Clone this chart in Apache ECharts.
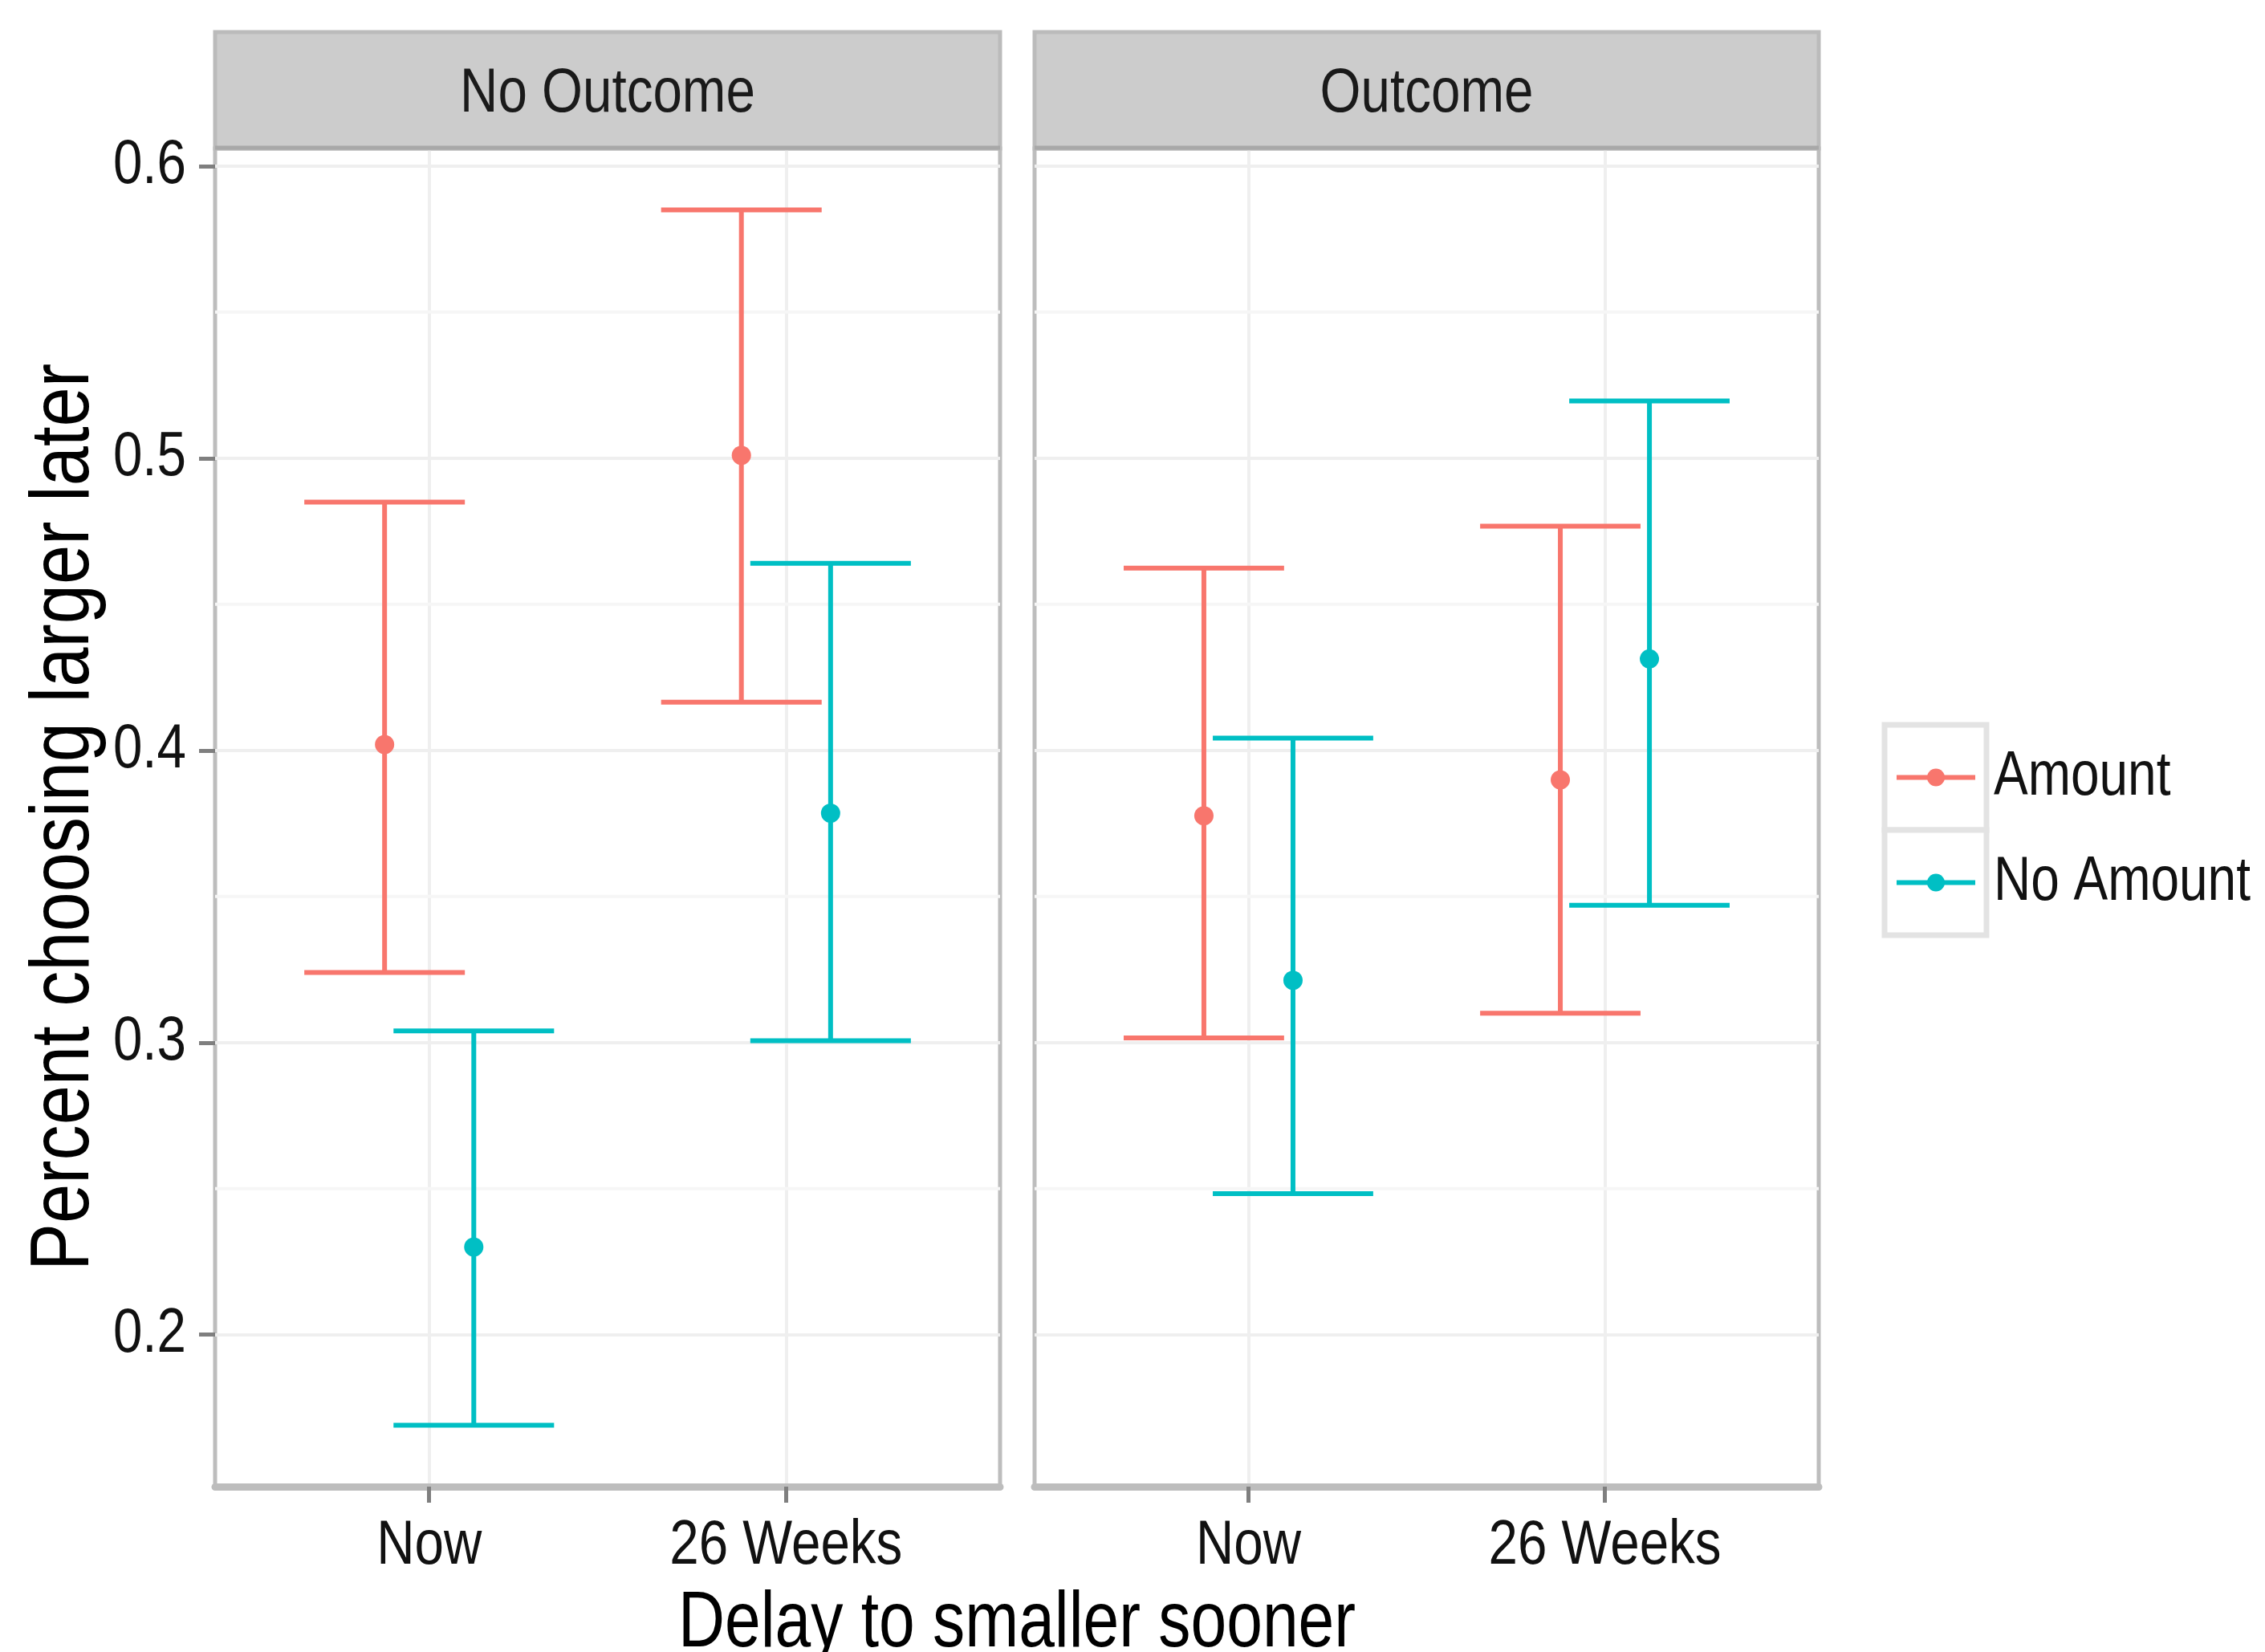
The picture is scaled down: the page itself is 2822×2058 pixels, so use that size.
<!DOCTYPE html>
<html>
<head>
<meta charset="utf-8">
<script src="https://cdn.jsdelivr.net/npm/echarts@6/dist/echarts.min.js"></script>
<style>
html,body{margin:0;padding:0;background:#fff;}
#chart{width:2822px;height:2058px;}
</style>
</head>
<body>
<div id="chart"></div>
<script>
// ---- data ----
const categories = ['Now', '26 Weeks'];
const facets = ['No Outcome', 'Outcome'];
const groups = ['Amount', 'No Amount'];
const yTicks = [0.2, 0.3, 0.4, 0.5, 0.6];
const yMinorTicks = [0.25, 0.35, 0.45, 0.55];

const noOutcome_amount_mean  = [0.402, 0.501];
const noOutcome_amount_lower = [0.324, 0.4165];
const noOutcome_amount_upper = [0.485, 0.585];
const noOutcome_noAmount_mean  = [0.230, 0.3785];
const noOutcome_noAmount_lower = [0.169, 0.3006];
const noOutcome_noAmount_upper = [0.304, 0.464];

const outcome_amount_mean  = [0.3776, 0.3899];
const outcome_amount_lower = [0.3016, 0.310];
const outcome_amount_upper = [0.4624, 0.4767];
const outcome_noAmount_mean  = [0.3213, 0.4313];
const outcome_noAmount_lower = [0.2483, 0.347];
const outcome_noAmount_upper = [0.4042, 0.5196];

// ---- styling / layout ----
const COLORS = ['#F8766D', '#00BFC4'];
const DODGE = 0.125;
const CAP_HALF = 0.225;
const FONT = "'Liberation Sans', Arial, sans-serif";
const NARROW = 0.84;
const panels = [
  {left: 268, width: 978},
  {left: 1289, width: 977}
];
const TOP = 185, BOTTOM = 1852;

function rows(mean, lower, upper, offset) {
  return categories.map((c, i) => [i + 1 + offset, mean[i], lower[i], upper[i]]);
}

const facetData = [
  [rows(noOutcome_amount_mean, noOutcome_amount_lower, noOutcome_amount_upper, -DODGE),
   rows(noOutcome_noAmount_mean, noOutcome_noAmount_lower, noOutcome_noAmount_upper, DODGE)],
  [rows(outcome_amount_mean, outcome_amount_lower, outcome_amount_upper, -DODGE),
   rows(outcome_noAmount_mean, outcome_noAmount_lower, outcome_noAmount_upper, DODGE)]
];

function errRender(color) {
  return function (params, api) {
    const x = api.value(0), m = api.value(1), lo = api.value(2), hi = api.value(3);
    const pLo = api.coord([x, lo]), pHi = api.coord([x, hi]), pM = api.coord([x, m]);
    const l1 = api.coord([x - CAP_HALF, lo]), r1 = api.coord([x + CAP_HALF, lo]);
    const l2 = api.coord([x - CAP_HALF, hi]), r2 = api.coord([x + CAP_HALF, hi]);
    const st = {stroke: color, lineWidth: 6};
    return {
      type: 'group',
      children: [
        {type: 'line', shape: {x1: pLo[0], y1: pLo[1], x2: pHi[0], y2: pHi[1]}, style: st},
        {type: 'line', shape: {x1: l1[0], y1: l1[1], x2: r1[0], y2: r1[1]}, style: st},
        {type: 'line', shape: {x1: l2[0], y1: l2[1], x2: r2[0], y2: r2[1]}, style: st},
        {type: 'circle', shape: {cx: pM[0], cy: pM[1], r: 12}, style: {fill: color}}
      ]
    };
  };
}

function minorRender(params, api) {
  const cs = params.coordSys;
  const p = api.coord([1, api.value(1)]);
  return {type: 'line', shape: {x1: cs.x, y1: p[1], x2: cs.x + cs.width, y2: p[1]},
          style: {stroke: '#f6f6f6', lineWidth: 4}};
}

function txt(text, x, y, size, opts) {
  opts = opts || {};
  return {
    type: 'text', x: x, y: y, z: 12, scaleX: opts.scaleX || NARROW,
    rotation: opts.rotation || 0,
    style: {text: text, font: `${size}px ${FONT}`, fill: opts.fill || '#1a1a1a',
            align: opts.align || 'center', verticalAlign: 'middle'}
  };
}

const grids = [], xAxes = [], yAxes = [], series = [], graphics = [];
panels.forEach((p, k) => {
  grids.push({left: p.left, top: TOP, width: p.width, height: BOTTOM - TOP,
              show: true, borderColor: '#bdbdbd', borderWidth: 5, backgroundColor: '#fff'});
  xAxes.push({
    type: 'value', gridIndex: k, min: 0.4, max: 2.6,
    axisLine: {show: true, onZero: false, lineStyle: {color: '#bdbdbd', width: 9}},
    axisTick: {show: true, length: 20, lineStyle: {color: '#7f7f7f', width: 5}, customValues: [1, 2]},
    axisLabel: {show: false, customValues: [1, 2]},
    splitLine: {show: true, lineStyle: {color: '#efefef', width: 4}}
  });
  yAxes.push({
    type: 'value', gridIndex: k, min: 0.148, max: 0.606,
    axisLine: {show: false},
    axisTick: {show: k === 0, length: 20, lineStyle: {color: '#7f7f7f', width: 5}, customValues: yTicks},
    axisLabel: {show: false, customValues: yTicks},
    splitLine: {show: true, lineStyle: {color: '#efefef', width: 4}}
  });
  series.push({
    type: 'custom', name: 'minor', xAxisIndex: k, yAxisIndex: k, silent: true, z: 1,
    data: yMinorTicks.map(v => [1, v]), renderItem: minorRender, encode: {x: 0, y: 1}
  });
  groups.forEach((g, j) => {
    series.push({
      type: 'custom', name: g, xAxisIndex: k, yAxisIndex: k, z: 3, clip: false,
      data: facetData[k][j], encode: {x: 0, y: [1, 2, 3]},
      renderItem: errRender(COLORS[j])
    });
  });
  // strip
  graphics.push({type: 'rect', shape: {x: p.left, y: 40, width: p.width, height: 145},
                 style: {fill: '#cccccc', stroke: '#bbbbbb', lineWidth: 5}, z: 10});
  graphics.push({type: 'line', shape: {x1: p.left, y1: 184, x2: p.left + p.width, y2: 184},
                 style: {stroke: '#a8a8a8', lineWidth: 5}, z: 11});
  graphics.push(txt(facets[k], p.left + p.width / 2, 117, 78));
});

// axis titles
graphics.push(txt('Delay to smaller sooner', 1267, 2024, 98, {fill: '#000', scaleX: 0.82}));
graphics.push(txt('Percent choosing larger later', 81, 1018, 104, {fill: '#000', scaleX: 0.85, rotation: Math.PI / 2}));

// legend
const LX = 2348, LW = 127, LY = 903, LH = 131;
groups.forEach((g, j) => {
  const y0 = LY + j * LH;
  const cy = y0 + LH / 2;
  graphics.push({type: 'rect', shape: {x: LX, y: y0, width: LW, height: LH},
                 style: {fill: '#fff', stroke: '#e3e3e3', lineWidth: 7}, z: 10});
  graphics.push({type: 'line', shape: {x1: LX + 15, y1: cy, x2: LX + 113, y2: cy},
                 style: {stroke: COLORS[j], lineWidth: 6}, z: 11});
  graphics.push({type: 'circle', shape: {cx: LX + 64, cy: cy, r: 11},
                 style: {fill: COLORS[j]}, z: 11});
  graphics.push(txt(g, 2484, cy, 78, {align: 'left', fill: '#111', scaleX: 0.82}));
});

const chart = echarts.init(document.getElementById('chart'));
chart.setOption({
  backgroundColor: '#fff',
  animation: false,
  grid: grids,
  xAxis: xAxes,
  yAxis: yAxes,
  series: series
});

// tick labels placed with the axes' own scales
panels.forEach((p, k) => {
  categories.forEach((c, i) => {
    const pt = chart.convertToPixel({gridIndex: k}, [i + 1, 0.2]);
    graphics.push(txt(c, pt[0], 1926, 78, {fill: '#111'}));
  });
});
yTicks.forEach(v => {
  const pt = chart.convertToPixel({gridIndex: 0}, [1, v]);
  graphics.push(txt(v.toFixed(1), 232, pt[1], 78, {align: 'right', fill: '#111'}));
});

chart.setOption({graphic: graphics});
</script>
</body>
</html>
